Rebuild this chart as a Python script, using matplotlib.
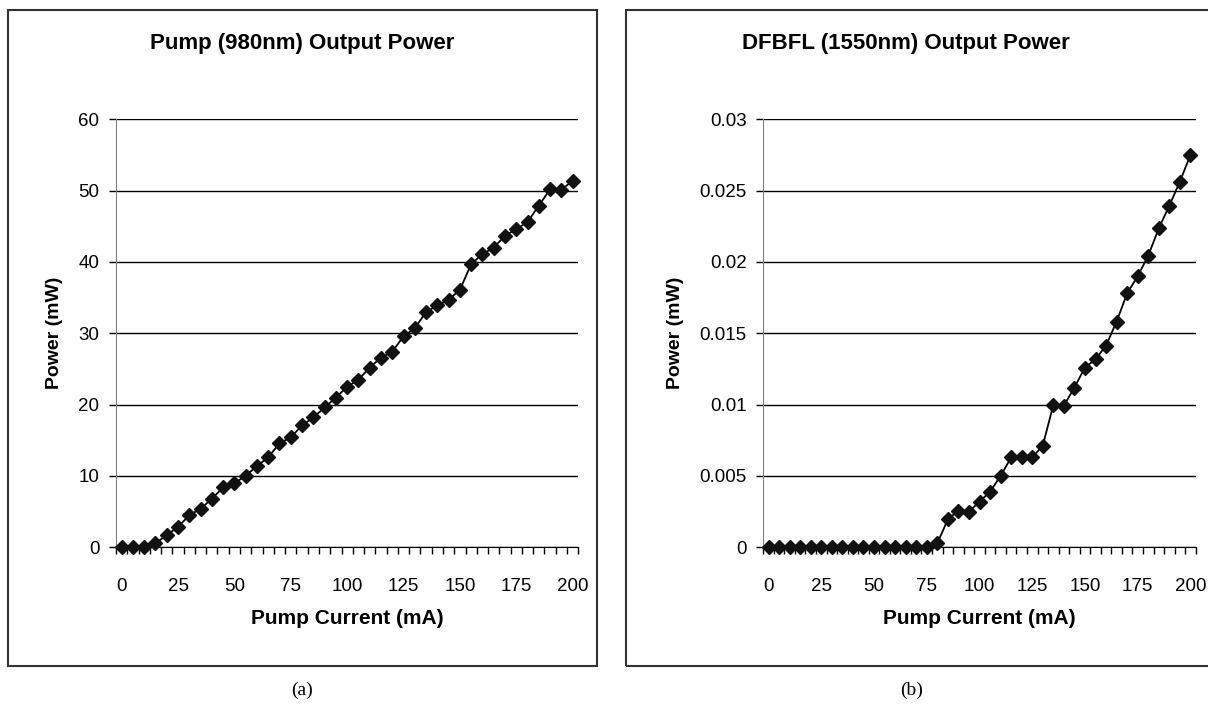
import matplotlib.pyplot as plt
from matplotlib.patches import Rectangle

# Data
current_ma = [0, 5, 10, 15, 20, 25, 30, 35, 40, 45, 50, 55, 60, 65, 70, 75, 80, 85, 90, 95,
              100, 105, 110, 115, 120, 125, 130, 135, 140, 145, 150, 155, 160, 165, 170, 175,
              180, 185, 190, 195, 200]

pump_mw = [0, 0, 0, 0.56, 1.7, 2.85, 4.5, 5.4, 6.8, 8.4, 9.0, 10.0, 11.4, 12.6, 14.6, 15.4,
           17.1, 18.2, 19.6, 21.0, 22.5, 23.5, 25.2, 26.6, 27.4, 29.6, 30.7, 33.0, 33.9, 34.7,
           36.1, 39.7, 41.1, 42.0, 43.7, 44.6, 45.6, 47.9, 50.2, 50.1, 51.4]

dfbfl_mw = [0, 0, 0, 0, 0, 0, 0, 0, 0, 0, 0, 0, 0, 0, 0, 0,
            0.00028, 0.00196, 0.00257, 0.0025, 0.0032, 0.0039, 0.0050, 0.0063, 0.0063, 0.0063,
            0.00713, 0.00998, 0.00993, 0.0112, 0.0126, 0.01318, 0.01414, 0.01582, 0.0178,
            0.0190, 0.02044, 0.02236, 0.02395, 0.02563, 0.0275]

xtick_vals = [0, 25, 50, 75, 100, 125, 150, 175, 200]
pump_yticks = [0, 10, 20, 30, 40, 50, 60]
dfbfl_yticks = [0, 0.005, 0.01, 0.015, 0.02, 0.025, 0.03]
dfbfl_ylabels = ["0", "0.005", "0.01", "0.015", "0.02", "0.025", "0.03"]

plt.rcParams['font.family'] = ['Liberation Sans', 'DejaVu Sans']

W, H = 1208, 704
fig = plt.figure(figsize=(W / 100, H / 100), dpi=100)


def fx(px):
    return px / W


def fy(py):
    return 1 - py / H


def draw_chart(left_px, right_px, y, yticks, ylabels, title, box, title_x, cap_x, caption):
    top, bottom = 119.3, 547.3
    ax = fig.add_axes([fx(left_px), fy(bottom), fx(right_px - left_px), (bottom - top) / H])
    ax.plot(current_ma, y, color='black', lw=1.3, marker='D', ms=7.5,
            mfc='#111111', mec='#111111', zorder=3, clip_on=False)
    ax.set_xlim(-2.5, 202.5)
    ax.set_ylim(yticks[0], yticks[-1])
    ax.set_yticks(yticks)
    ax.set_yticklabels(ylabels)
    ax.set_xticks(xtick_vals)
    ax.set_xticks([v - 2.5 for v in current_ma] + [202.5], minor=True)
    ax.tick_params(axis='x', which='major', length=0, pad=22, labelsize=13.5)
    ax.tick_params(axis='x', which='minor', direction='out', length=5, width=1, color='black')
    ax.tick_params(axis='y', length=5, width=1, pad=7, labelsize=13.5, color='black')
    ax.grid(axis='y', color='black', lw=1)
    ax.set_axisbelow(True)
    for s in ('top', 'right'):
        ax.spines[s].set_visible(False)
    ax.spines['left'].set_color('#808080')
    ax.spines['bottom'].set_color('black')
    ax.spines['bottom'].set_zorder(2.5)
    ax.set_xlabel("Pump Current (mA)", fontsize=15, fontweight='bold', labelpad=10)
    ax.set_ylabel("Power (mW)", fontsize=14, fontweight='bold', labelpad=11)
    x0, x1 = box
    fig.text(fx(title_x), fy(44), title, ha='center', va='center', fontsize=16, fontweight='bold')
    fig.add_artist(Rectangle((fx(x0), fy(665.7)), fx(x1 - x0), (665.7 - 10) / H,
                             transform=fig.transFigure, fill=False, ec='#333333', lw=1.5))
    fig.text(fx(cap_x), fy(690), caption, ha='center', va='center', fontsize=14,
             family=['Liberation Serif', 'DejaVu Serif'])
    return ax


draw_chart(116, 578.3, pump_mw, pump_yticks, [str(v) for v in pump_yticks],
           "Pump (980nm) Output Power", (8.3, 596.7), 302, 302, "(a)")
draw_chart(763.3, 1195.7, dfbfl_mw, dfbfl_yticks, dfbfl_ylabels,
           "DFBFL (1550nm) Output Power", (626, 1216), 906, 912, "(b)")

fig.savefig("out.png", dpi=100)
